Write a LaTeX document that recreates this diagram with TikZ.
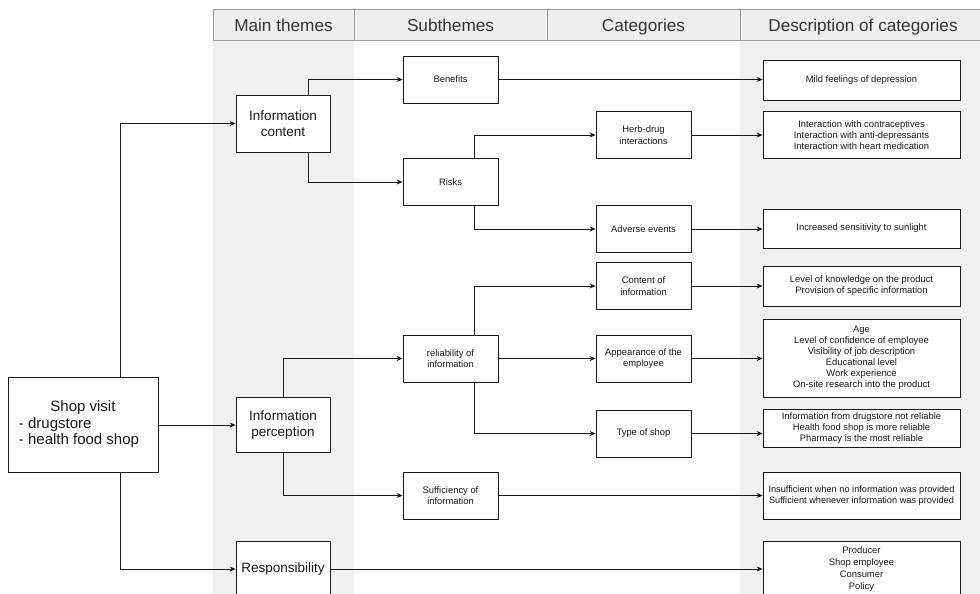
\documentclass[tikz,border=0pt]{standalone}
\usepackage{fontspec}
\setmainfont{Liberation Sans}
\usetikzlibrary{arrows.meta}
\definecolor{colfill}{HTML}{EFF0F0}
\definecolor{headfill}{HTML}{EEEEEE}
\definecolor{headline}{HTML}{9A9A9A}
\definecolor{headtext}{HTML}{333333}
\definecolor{linecol}{HTML}{1A1A1A}
\begin{document}
\begin{tikzpicture}[x=1pt,y=-1pt,
  box/.style={draw=linecol,fill=white,line width=0.8pt,inner sep=1pt,align=center,text=black!90},
  mainbox/.style={box,minimum width=94pt,font=\fontsize{13.5}{16}\selectfont},
  subbox/.style={box,minimum width=95pt,minimum height=47pt,font=\fontsize{9.4}{11.5}\selectfont},
  descbox/.style={box,minimum width=197pt,font=\fontsize{9.4}{11}\selectfont},
  headcell/.style={draw=headline,fill=headfill,line width=0.6pt,minimum height=31pt,inner sep=0pt,
    text height=14pt,text depth=0pt,
    text=headtext,font=\fontsize{17.2}{20}\selectfont},
  arr/.style={draw=linecol,line width=0.8pt,-{Stealth[length=6pt,width=5pt]}}]
\useasboundingbox (0,0) rectangle (980,594);
\begin{scope}
\clip (0,0) rectangle (980,594);
% shaded columns
\fill[colfill] (213,40) rectangle (354,600);
\fill[colfill] (740,40) rectangle (985,600);
% header row
\node[headcell,minimum width=141pt] (h1) at (283.5,24.5) {Main themes};
\node[headcell,minimum width=193pt] (h2) at (450.5,24.5) {Subthemes};
\node[headcell,minimum width=193pt] (h3) at (643.5,24.5) {Categories};
\node[headcell,minimum width=246pt] (h4) at (863,24.5) {Description of categories};

% root
\node[box,minimum width=150pt,minimum height=95pt,font=\fontsize{15}{16.5}\selectfont] (shop) at (83,425)
  {\begin{tabular}{@{}l@{\hspace{8pt}}}\multicolumn{1}{@{}c@{\hspace{8pt}}}{\hspace{8pt}Shop visit}\\- drugstore\\- health food shop\end{tabular}};

% main themes
\node[mainbox,minimum height=57pt] (ic) at (283,123.5) {Information\\content};
\node[mainbox,minimum height=55pt] (ip) at (283,425) {Information\\perception};
\node[mainbox,minimum height=56pt] (resp) at (283,569) {Responsibility};

% subthemes
\node[subbox] (benefits) at (450.5,79.5) {Benefits};
\node[subbox] (risks) at (450.5,182) {Risks};
\node[subbox] (rel) at (450.5,358.5) {reliability of\\information};
\node[subbox] (suff) at (450.5,495.5) {Sufficiency of\\information};

% categories
\node[subbox] (herb) at (643.5,135) {Herb-drug\\interactions};
\node[subbox] (adverse) at (643.5,229) {Adverse events};
\node[subbox] (content) at (643.5,286) {Content of\\information};
\node[subbox] (appear) at (643.5,358.5) {Appearance of the\\employee};
\node[subbox] (type) at (643.5,433.5) {Type of shop};

% descriptions
\node[descbox,minimum height=40pt] (d1) at (861.5,80) {Mild feelings of depression};
\node[descbox,minimum height=47pt] (d2) at (861.5,135) {Interaction with contraceptives\\Interaction with anti-depressants\\Interaction with heart medication};
\node[descbox,minimum height=39pt] (d3) at (861.5,228.5) {Increased sensitivity to sunlight};
\node[descbox,minimum height=40pt] (d4) at (861.5,286) {Level of knowledge on the product\\Provision of specific information};
\node[descbox,minimum height=78pt] (d5) at (861.5,358) {Age\\Level of confidence of employee\\Visibility of job description\\Educational level\\Work experience\\On-site research into the product};
\node[descbox,minimum height=38pt] (d6) at (861.5,428) {Information from drugstore not reliable\\Health food shop is more reliable\\Pharmacy is the most reliable};
\node[descbox,minimum height=47pt,inner sep=0pt,font=\fontsize{9.2}{11}\selectfont] (d7) at (861.5,495.5) {Insufficient when no information was provided\\Sufficient whenever information was provided};
\node[descbox,minimum height=56pt,font=\fontsize{9.4}{12}\selectfont] (d8) at (861.5,569) {Producer\\Shop employee\\Consumer\\Policy};

% connectors from the root
\draw[arr] ([xshift=37pt]shop.north) |- (ic.west);
\draw[arr] (shop.east) -- (ip.west);
\draw[arr] ([xshift=37pt]shop.south) |- (resp.west);

% main themes to subthemes
\draw[arr] ([xshift=25pt]ic.north) |- (benefits.west);
\draw[arr] ([xshift=25pt]ic.south) |- (risks.west);
\draw[arr] (ip.north) |- (rel.west);
\draw[arr] (ip.south) |- (suff.west);

% subthemes to categories
\draw[arr] ([xshift=23.5pt]risks.north) |- (herb.west);
\draw[arr] ([xshift=23.5pt]risks.south) |- (adverse.west);
\draw[arr] ([xshift=23.5pt]rel.north) |- (content.west);
\draw[arr] (rel.east) -- (appear.west);
\draw[arr] ([xshift=23.5pt]rel.south) |- (type.west);

% to descriptions
\draw[arr] (benefits.east) -- (benefits.east -| d1.west);
\draw[arr] (herb.east) -- (herb.east -| d2.west);
\draw[arr] (adverse.east) -- (adverse.east -| d3.west);
\draw[arr] (content.east) -- (content.east -| d4.west);
\draw[arr] (appear.east) -- (appear.east -| d5.west);
\draw[arr] (type.east) -- (type.east -| d6.west);
\draw[arr] (suff.east) -- (suff.east -| d7.west);
\draw[arr] (resp.east) -- (resp.east -| d8.west);
\end{scope}
\end{tikzpicture}
\end{document}
